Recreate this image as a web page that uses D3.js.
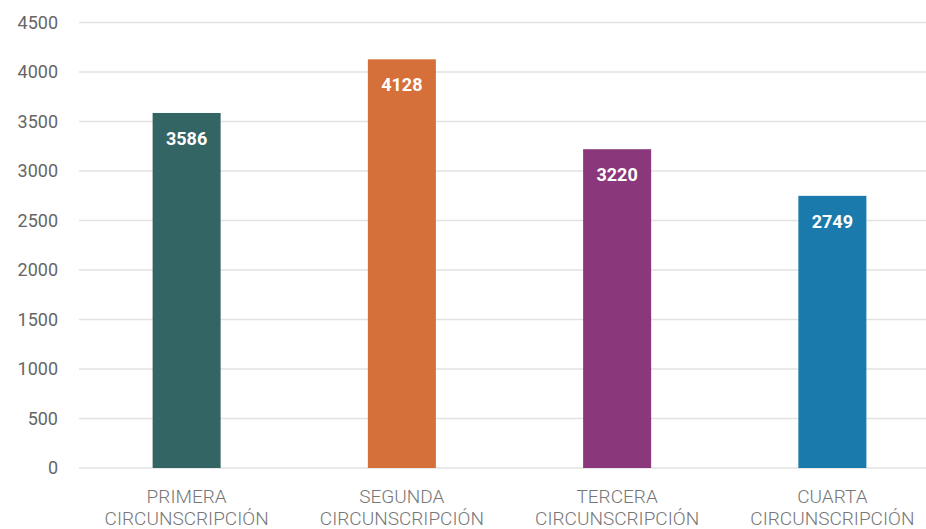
<html>
<head>
<meta charset="utf-8">
<script src="https://d3js.org/d3.v7.min.js"></script>
<style>
  body { margin: 0; background: #fff; }
  svg text { font-family: Roboto, "Noto Sans", sans-serif; }
  .grid line { stroke: #e2e2e2; stroke-width: 1.6; }
  .ylab { fill: #666; font-size: 18px; text-anchor: end; }
  .xlab { fill: #777; font-size: 19px; font-weight: 300; text-anchor: middle; }
  .val { fill: #fff; font-size: 18px; font-weight: 700; text-anchor: middle; }
</style>
</head>
<body>
<script>
var categories = ["PRIMERA", "SEGUNDA", "TERCERA", "CUARTA"];
var subLabel = "CIRCUNSCRIPCIÓN";
var values = [3586, 4128, 3220, 2749];
var colors = ["#336565", "#d6703a", "#8a377b", "#1a7aab"];
var yTicks = [0, 500, 1000, 1500, 2000, 2500, 3000, 3500, 4000, 4500];

var width = 926, height = 529;

var svg = d3.select("body").append("svg")
    .attr("width", width)
    .attr("height", height);

var x = d3.scaleBand()
    .domain(categories)
    .range([79, 940])
    .paddingInner(0.684)
    .paddingOuter(0.342);

var y = d3.scaleLinear()
    .domain([0, 4500])
    .range([468, 22.5]);

// gridlines
svg.append("g").attr("class", "grid")
  .selectAll("line")
  .data(yTicks)
  .enter().append("line")
    .attr("x1", 79)
    .attr("x2", width)
    .attr("y1", function(d) { return y(d); })
    .attr("y2", function(d) { return y(d); });

// y labels
svg.append("g")
  .selectAll("text")
  .data(yTicks)
  .enter().append("text")
    .attr("class", "ylab")
    .attr("x", 58)
    .attr("y", function(d) { return y(d); })
    .attr("dy", "0.35em")
    .text(function(d) { return d; });

var bar = svg.selectAll(".bar")
  .data(values)
  .enter().append("g");

bar.append("rect")
    .attr("x", function(d, i) { return x(categories[i]); })
    .attr("width", x.bandwidth())
    .attr("y", function(d) { return y(d); })
    .attr("height", function(d) { return y(0) - y(d); })
    .attr("fill", function(d, i) { return colors[i]; });

bar.append("text")
    .attr("class", "val")
    .attr("x", function(d, i) { return x(categories[i]) + x.bandwidth() / 2; })
    .attr("y", function(d) { return y(d) + 32; })
    .text(function(d) { return d; });

// x labels
var xl = svg.append("g")
  .selectAll("text")
  .data(categories)
  .enter().append("text")
    .attr("class", "xlab")
    .attr("x", function(d) { return x(d) + x.bandwidth() / 2; })
    .attr("y", 503);

xl.append("tspan")
    .attr("x", function(d) { return x(d) + x.bandwidth() / 2; })
    .text(function(d) { return d; });
xl.append("tspan")
    .attr("x", function(d) { return x(d) + x.bandwidth() / 2; })
    .attr("dy", 21.5)
    .text(subLabel);
</script>
</body>
</html>
